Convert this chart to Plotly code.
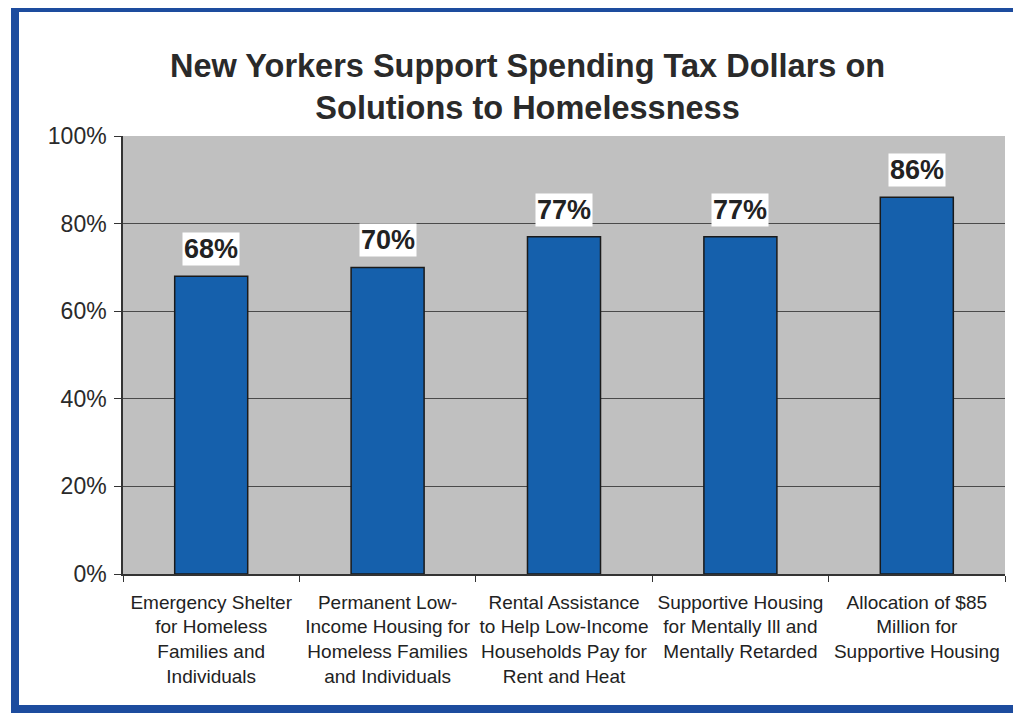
import plotly.graph_objects as go

categories = [
    "Emergency Shelter<br>for Homeless<br>Families and<br>Individuals",
    "Permanent Low-<br>Income Housing for<br>Homeless Families<br>and Individuals",
    "Rental Assistance<br>to Help Low-Income<br>Households Pay for<br>Rent and Heat",
    "Supportive Housing<br>for Mentally Ill and<br>Mentally Retarded",
    "Allocation of $85<br>Million for<br>Supportive Housing",
]
values = [68, 70, 77, 77, 86]
value_labels = ["68%", "70%", "77%", "77%", "86%"]
tick_vals = [0, 20, 40, 60, 80, 100]
tick_text = ["0%", "20%", "40%", "60%", "80%", "100%"]

FONT = "Liberation Sans, Arial, sans-serif"
W, H = 1021, 715
OFF = 8  # page offset of the figure inside the browser window
# target plot area in window pixels: x 123..1005, y 136..574
L, T = 123 - OFF, 136 - OFF
pw, ph = 882, 438
R = W - L - pw
B = H - T - ph

def px_x(x):
    return (x - OFF - L) / pw

def px_y(y):
    return (T + ph - (y - OFF)) / ph

fig = go.Figure()
fig.add_trace(go.Bar(
    x=categories, y=values,
    marker=dict(color="#1560ac", line=dict(color="#1a1a1a", width=1.5)),
    hoverinfo="skip",
))

for c, v, t in zip(categories, values, value_labels):
    fig.add_annotation(
        x=c, y=v, text="<b>%s</b>" % t, showarrow=False,
        yanchor="bottom", yshift=10,
        font=dict(family=FONT, size=27, color="#222222"),
        bgcolor="white", borderpad=1,
    )

fig.add_shape(
    type="rect", xref="paper", yref="paper",
    x0=px_x(15), x1=px_x(1040), y0=px_y(709), y1=px_y(8),
    line=dict(color="#1d4c9e", width=8), fillcolor="rgba(0,0,0,0)", layer="above",
)

fig.add_annotation(
    text="<b>New Yorkers Support Spending Tax Dollars on<br>Solutions to Homelessness</b>",
    xref="paper", yref="paper", x=px_x(527), y=px_y(46),
    xanchor="center", yanchor="top", showarrow=False, align="center",
    font=dict(family=FONT, size=32.5, color="#2a2a2a"),
)

fig.update_layout(
    width=W, height=H,
    margin=dict(l=L, r=R, t=T, b=B, autoexpand=False),
    paper_bgcolor="white", plot_bgcolor="#c0c0c0",
    bargap=0.586, showlegend=False,
    font=dict(family=FONT, color="#222222"),
)
fig.update_yaxes(
    range=[0, 100], tickvals=tick_vals, ticktext=tick_text,
    tickfont=dict(family=FONT, size=23, color="#2a2a2a"),
    showgrid=True, gridcolor="#4a4a4a", gridwidth=1,
    showline=True, linecolor="#333333", linewidth=1.5,
    ticks="outside", ticklen=7, tickcolor="#333333",
    ticklabelstandoff=3,
    zeroline=False, fixedrange=True,
)
fig.update_xaxes(
    tickangle=0,
    tickfont=dict(family=FONT, size=19, color="#222222"),
    showline=True, linecolor="#333333", linewidth=1.5,
    ticks="outside", tickson="boundaries", ticklen=6, tickcolor="#333333",
    ticklabelstandoff=10,
    fixedrange=True,
)

fig.write_html("out.html")
